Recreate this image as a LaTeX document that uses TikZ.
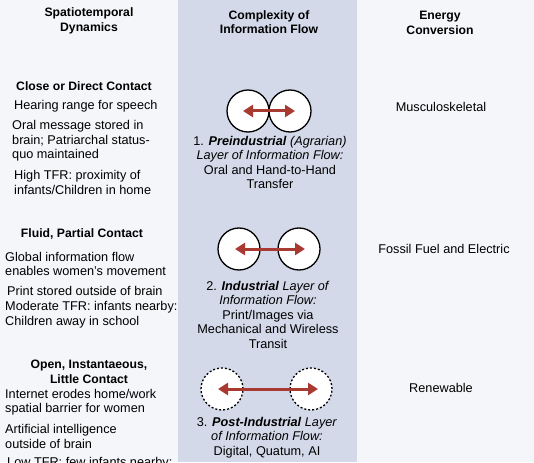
\documentclass[tikz,border=0pt]{standalone}
\usepackage{fontspec}
\setmainfont{Liberation Sans}
\usetikzlibrary{arrows.meta}
\definecolor{bg}{HTML}{F5F6F9}
\definecolor{mid}{HTML}{D3D9E9}
\definecolor{arr}{HTML}{A83A32}
\begin{document}
\begin{tikzpicture}[x=1pt,y=-1pt,
 txt/.style={font=\fontsize{12.7}{14.5}\selectfont, inner sep=0pt, align=left, anchor=west},
 ctxt/.style={font=\fontsize{12.7}{14.5}\selectfont, inner sep=0pt, align=center},
 hd/.style={font=\bfseries\fontsize{12.2}{14.5}\selectfont, inner sep=0pt, align=center},
 sub/.style={font=\bfseries\fontsize{12.2}{14.5}\selectfont, inner sep=0pt, align=center},
 bub/.style={circle, draw=black, fill=white, line width=1.3pt, minimum size=42pt, inner sep=0pt},
 dbub/.style={bub, dash pattern=on 2pt off 2pt},
 flow/.style={draw=arr, line width=3pt, {Triangle[length=10pt,width=12pt]}-{Triangle[length=10pt,width=12pt]}}
]
\useasboundingbox (0,0) rectangle (534,462);
\clip (0,0) rectangle (534,462);
\fill[bg] (0,0) rectangle (534,462);
\fill[mid] (178,0) rectangle (357,462);

% headers
\node[hd] (h1) at (89,21) {Spatiotemporal\\Dynamics};
\node[hd] (h2) at (269,22) {Complexity of\\Information Flow};
\node[hd] (h3) at (440,23) {Energy\\Conversion};

% left column, section 1
\node[sub] (s1) at (84,86) {Close or Direct Contact};
\node[txt] (l1a) at (14,106) {Hearing range for speech};
\node[txt] (l1b) at (12,141) {Oral message stored in\\brain; Patriarchal status-\\quo maintained};
\node[txt] (l1c) at (14,182.5) {High TFR: proximity of\\infants/Children in home};

% left column, section 2
\node[sub] (s2) at (82,234) {Fluid, Partial Contact};
\node[txt] (l2a) at (5,264) {Global information flow\\enables women's movement};
\node[txt] (l2b) at (7,291) {Print stored outside of brain};
\node[txt] (l2c) at (5,314.5) {Moderate TFR: infants nearby:\\Children away in school};

% left column, section 3
\node[sub] (s3) at (89,372) {Open, Instantaeous,\\Little Contact};
\node[txt] (l3a) at (5,402) {Internet erodes home/work\\spatial barrier for women};
\node[txt] (l3b) at (5,436.5) {Artificial intelligence\\outside of brain};
\node[txt] (l3c) at (7,463) {Low TFR: few infants nearby:};

% middle column
\node[bub] (c1l) at (248,111) {};
\node[bub] (c1r) at (290,111) {};
\draw[flow, shorten <=-5pt, shorten >=-5pt] (c1l.center) -- (c1r.center);
\node[ctxt] (m1) at (270,162.5) {1. \textbf{\textit{Preindustrial}} \textit{(Agrarian)}\\\textit{Layer of Information Flow:}\\Oral and Hand-to-Hand\\Transfer};

\node[bub] (c2l) at (239,249) {};
\node[bub] (c2r) at (299,249) {};
\draw[flow, shorten <=-4pt, shorten >=-6pt] (c2l.center) -- (c2r.center);
\node[ctxt] (m2) at (268,314.5) {2. \textbf{\textit{Industrial}} \textit{Layer of}\\\textit{Information Flow:}\\Print/Images via\\Mechanical and Wireless\\Transit};

\node[dbub] (c3l) at (222,389) {};
\node[dbub] (c3r) at (311,389) {};
\draw[flow, shorten <=-4pt, shorten >=-7pt] (c3l.center) -- (c3r.center);
\node[ctxt] (m3) at (267,437.5) {3. \textbf{\textit{Post-Industrial}} \textit{Layer}\\\textit{of Information Flow:}\\Digital, Quatum, AI};

% right column
\node[ctxt] (r1) at (441,107) {Musculoskeletal};
\node[ctxt] (r2) at (444,249) {Fossil Fuel and Electric};
\node[ctxt] (r3) at (441,388) {Renewable};
\end{tikzpicture}
\end{document}
